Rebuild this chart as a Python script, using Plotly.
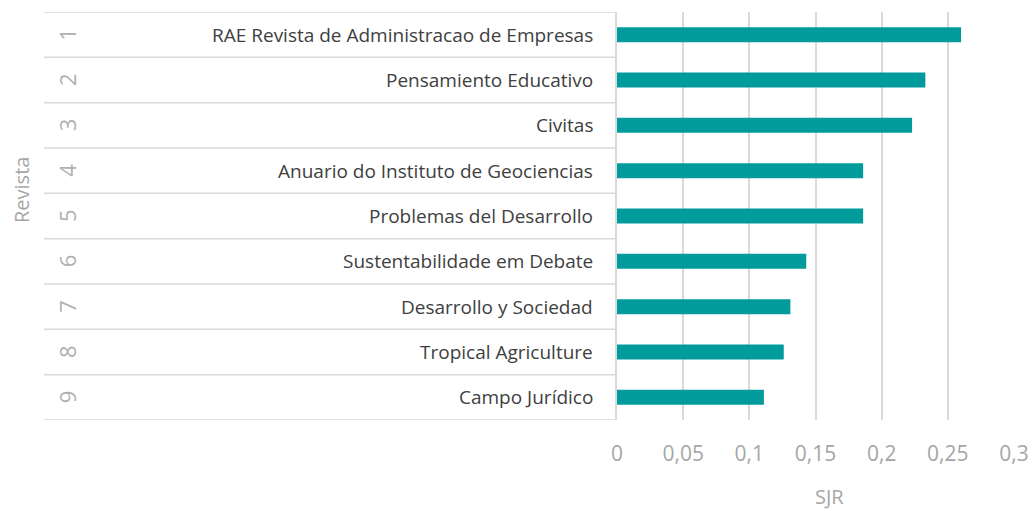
import plotly.graph_objects as go

ranks = [1, 2, 3, 4, 5, 6, 7, 8, 9]
journals = [
    "RAE Revista de Administracao de Empresas",
    "Pensamiento Educativo",
    "Civitas",
    "Anuario do Instituto de Geociencias",
    "Problemas del Desarrollo",
    "Sustentabilidade em Debate",
    "Desarrollo y Sociedad",
    "Tropical Agriculture",
    "Campo Jurídico",
]
sjr = [0.260, 0.233, 0.223, 0.186, 0.186, 0.143, 0.131, 0.126, 0.111]
tick_vals = [0, 0.05, 0.1, 0.15, 0.2, 0.25, 0.3]
tick_text = ["0", "0,05", "0,1", "0,15", "0,2", "0,25", "0,3"]

W, H = 1036, 511
L, R, T, B = 617, 22, 12, 91
pw = W - L - R
GRID = "#D9D9D9"
GRAY = "#A6A6A6"
DARK = "#404040"
FONT = "Open Sans"

fig = go.Figure()
fig.add_trace(go.Bar(
    x=sjr, y=ranks, orientation="h",
    marker=dict(color="#009B9A", line=dict(width=0)),
    width=0.33, hoverinfo="x+y",
))

def px2paper(px):
    return (px - L) / pw

shapes = []
for i in range(len(ranks) + 1):
    yb = 0.5 + i
    shapes.append(dict(type="line", xref="paper", yref="y",
                       x0=px2paper(44), x1=0, y0=yb, y1=yb,
                       line=dict(color=GRID, width=1.5), layer="below"))

annotations = []
for r, name in zip(ranks, journals):
    annotations.append(dict(xref="paper", yref="y", x=px2paper(595), y=r,
                            text=name, showarrow=False, xanchor="right",
                            yanchor="middle",
                            font=dict(family=FONT, size=19, color=DARK)))
    annotations.append(dict(xref="paper", yref="y", x=px2paper(67), y=r,
                            text=str(r), showarrow=False, xanchor="center",
                            yanchor="middle", textangle=-90,
                            font=dict(family=FONT, size=22, color="#B0B0B0")))

annotations.append(dict(xref="paper", yref="paper", x=px2paper(21),
                        y=(H - B - 190) / (H - T - B),
                        text="Revista", showarrow=False, textangle=-90,
                        xanchor="center", yanchor="middle",
                        font=dict(family=FONT, size=20, color=GRAY)))
annotations.append(dict(xref="paper", yref="paper", x=px2paper(829),
                        y=(H - B - 496) / (H - T - B),
                        text="SJR", showarrow=False,
                        xanchor="center", yanchor="middle",
                        font=dict(family=FONT, size=20, color=GRAY)))

fig.update_layout(
    width=W, height=H,
    margin=dict(l=L, r=R, t=T, b=B, autoexpand=False),
    plot_bgcolor="white", paper_bgcolor="white",
    showlegend=False,
    bargap=0.67,
    shapes=shapes,
    annotations=annotations,
    xaxis=dict(range=[0, 0.3], tickvals=tick_vals, ticktext=tick_text,
               showgrid=True, gridcolor=GRID, gridwidth=1.5,
               zeroline=False, showline=False, ticks="",
               automargin=False,
               ticklabelstandoff=19,
               tickfont=dict(family=FONT, size=21, color=GRAY)),
    yaxis=dict(range=[9.5, 0.5], showticklabels=False, showgrid=False,
               zeroline=False, showline=True, linecolor=GRID, linewidth=1.5,
               automargin=False, ticks=""),
)

fig.write_html("out.html",
               config={"displayModeBar": False},
               post_script="document.body.style.margin='0';document.body.style.overflow='hidden';")
